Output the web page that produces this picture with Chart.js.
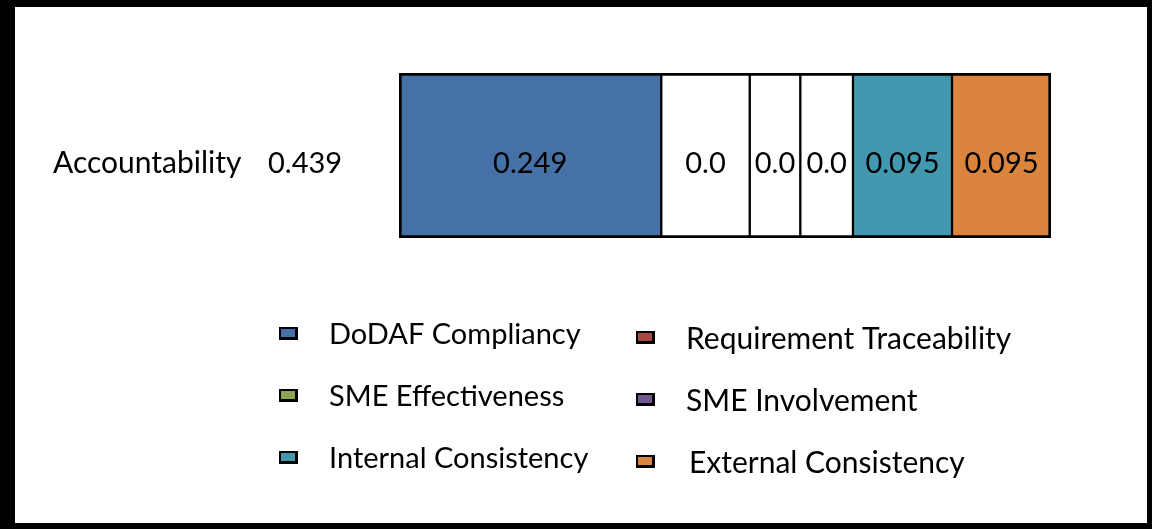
<!DOCTYPE html>
<html><head><meta charset="utf-8">
<script src="https://cdn.jsdelivr.net/npm/chart.js@4.4.1/dist/chart.umd.min.js"></script>
<style>html,body{margin:0;padding:0;background:#fff;overflow:hidden}canvas{display:block}</style>
</head><body>
<canvas id="c" width="1152" height="529"></canvas>
<script>
const categories = ['Accountability'];
const categoryTotals = ['0.439'];
const seriesNames = ['DoDAF Compliancy','Requirement Traceability','SME Effectiveness','SME Involvement','Internal Consistency','External Consistency'];
const segmentLengths = [0.249, 0.084, 0.048, 0.050, 0.094, 0.094];
const valueLabels = ['0.249','0.0','0.0','0.0','0.095','0.095'];
const barColors = ['#4571A7','#FFFFFF','#FFFFFF','#FFFFFF','#4198AF','#DB843D'];
const legendColors = ['#4571A7','#AA4643','#89A54E','#71588F','#4198AF','#DB843D'];

const FONT = 'Lato, "Open Sans", sans-serif';
const n = seriesNames.length;
const datasets = seriesNames.map((name, i) => ({
  label: name,
  data: [segmentLengths[i]],
  backgroundColor: barColors[i],
  borderColor: '#000',
  borderWidth: {top: 3, bottom: 3, left: i === 0 ? 3 : 1.5, right: i === n - 1 ? 3 : 1.5},
  borderSkipped: false,
  barPercentage: 1,
  categoryPercentage: 1
}));

const framePlugin = {
  id: 'frame',
  beforeDraw(chart) {
    const ctx = chart.ctx;
    ctx.save();
    ctx.fillStyle = '#000';
    ctx.fillRect(0, 0, chart.width, chart.height);
    ctx.fillStyle = '#fff';
    ctx.fillRect(15, 7, 1132, 516);
    ctx.restore();
  }
};

const labelPlugin = {
  id: 'labels',
  afterDatasetsDraw(chart) {
    const ctx = chart.ctx;
    ctx.save();
    ctx.fillStyle = '#000';
    ctx.textBaseline = 'middle';
    ctx.textAlign = 'center';
    ctx.font = '29px ' + FONT;
    chart.data.datasets.forEach((ds, i) => {
      const el = chart.getDatasetMeta(i).data[0];
      const c = el.getCenterPoint();
      ctx.fillText(valueLabels[i], c.x, c.y + 8);
    });
    const ys = chart.scales.y;
    categories.forEach((cat, j) => {
      const y = ys.getPixelForValue(j);
      ctx.textAlign = 'left';
      ctx.font = '30px ' + FONT;
      ctx.fillText(cat, 53, y + 8);
      ctx.font = '29px ' + FONT;
      ctx.fillText(categoryTotals[j], 268, y + 8);
    });
    // legend
    const cols = [{bx: 279, tx: 329, dy: 0, fs: 29}, {bx: 636, tx: 686, dy: 4, fs: 30}];
    const rowY = [333, 395, 457];
    seriesNames.forEach((name, i) => {
      const col = cols[i % 2];
      const y = rowY[Math.floor(i / 2)] + col.dy;
      ctx.fillStyle = '#000';
      ctx.fillRect(col.bx, y - 6, 19, 13);
      ctx.fillStyle = legendColors[i];
      ctx.fillRect(col.bx + 2, y - 4, 14, 8);
      ctx.fillStyle = '#000';
      ctx.textAlign = 'left';
      ctx.font = col.fs + 'px ' + FONT;
      ctx.fillText(name, col.tx + (i === 5 ? 3 : 0), y + 2);
    });
    ctx.restore();
  }
};

new Chart(document.getElementById('c'), {
  type: 'bar',
  data: {labels: categories, datasets},
  options: {
    indexAxis: 'y',
    responsive: false,
    animation: false,
    layout: {padding: {left: 399, right: 101, top: 73, bottom: 291}},
    plugins: {legend: {display: false}, tooltip: {enabled: false}},
    scales: {
      x: {display: false, stacked: true, min: 0, max: segmentLengths.reduce((a, b) => a + b, 0)},
      y: {display: false, stacked: true}
    }
  },
  plugins: [framePlugin, labelPlugin]
});
</script>
</body></html>
